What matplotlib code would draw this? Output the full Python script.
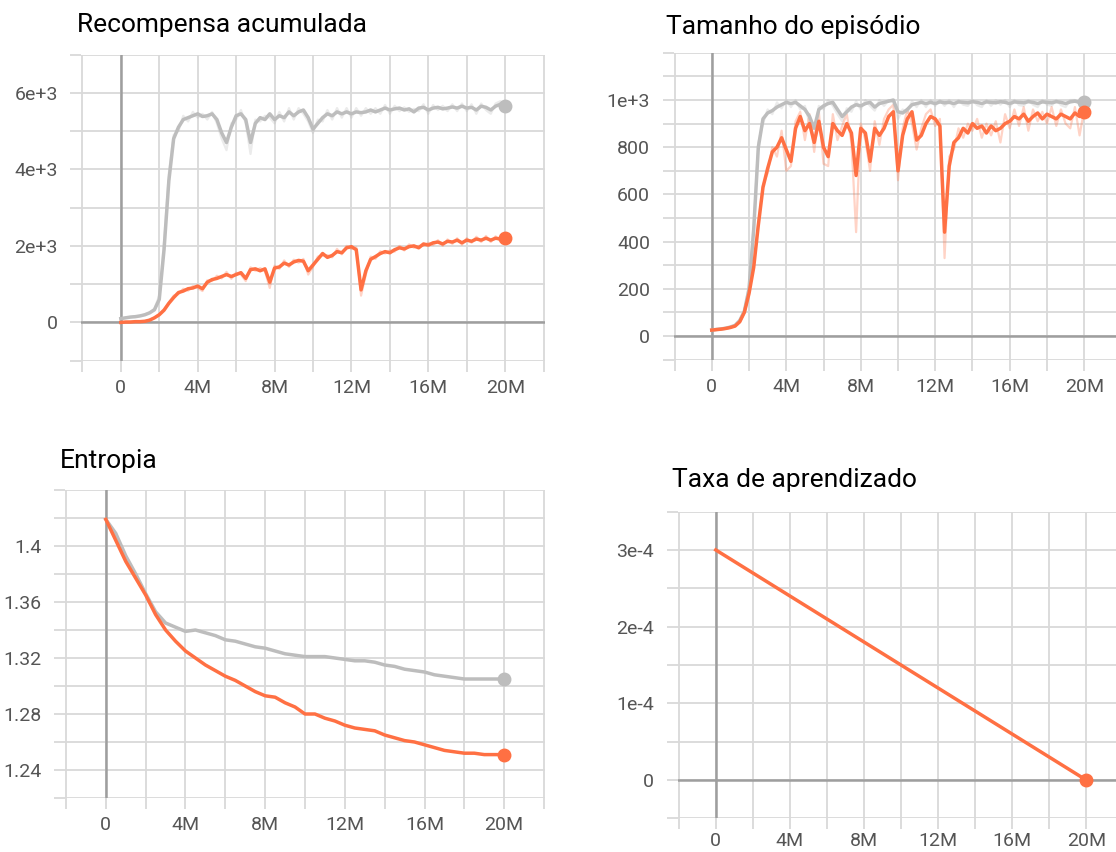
import numpy as np
import matplotlib
matplotlib.use('Agg')
import matplotlib.pyplot as plt

plt.rcParams['font.family'] = ['Roboto', 'DejaVu Sans']

# passos (0 a 20M, a cada 0.25M)
steps = np.arange(81) * 0.25e6
steps_ent = np.arange(41) * 0.5e6

# Recompensa acumulada (em milhares)
rew_gray = [0.10, 0.12, 0.14, 0.15, 0.17, 0.20, 0.25, 0.33, 0.60, 1.90,
            3.70, 4.80, 5.10, 5.30, 5.35, 5.40, 5.45, 5.38, 5.40, 5.45,
            5.30, 4.95, 4.70, 5.10, 5.40, 5.45, 5.30, 4.70, 5.20, 5.35,
            5.30, 5.45, 5.30, 5.40, 5.35, 5.50, 5.40, 5.50, 5.55, 5.35,
            5.05, 5.20, 5.35, 5.45, 5.40, 5.50, 5.45, 5.50, 5.45, 5.50,
            5.48, 5.50, 5.55, 5.50, 5.55, 5.60, 5.55, 5.58, 5.60, 5.55,
            5.58, 5.50, 5.60, 5.62, 5.55, 5.60, 5.62, 5.58, 5.60, 5.63,
            5.60, 5.65, 5.60, 5.62, 5.55, 5.65, 5.62, 5.55, 5.65, 5.70,
            5.65]
rew_gray_raw = [0.10, 0.13, 0.14, 0.16, 0.17, 0.21, 0.26, 0.36, 0.70, 2.10,
                3.90, 4.90, 5.00, 5.40, 5.25, 5.50, 5.35, 5.45, 5.30, 5.50,
                5.20, 4.80, 4.50, 5.20, 5.30, 5.55, 5.20, 4.40, 5.30, 5.25,
                5.40, 5.35, 5.20, 5.50, 5.25, 5.60, 5.30, 5.60, 5.45, 5.25,
                4.95, 5.30, 5.25, 5.55, 5.30, 5.60, 5.35, 5.60, 5.35, 5.60,
                5.40, 5.60, 5.45, 5.60, 5.45, 5.68, 5.45, 5.66, 5.52, 5.62,
                5.50, 5.58, 5.52, 5.70, 5.45, 5.68, 5.55, 5.66, 5.52, 5.70,
                5.52, 5.72, 5.52, 5.70, 5.45, 5.72, 5.55, 5.45, 5.72, 5.78,
                5.60]
rew_orange = [0.00, 0.01, 0.01, 0.02, 0.02, 0.03, 0.06, 0.12, 0.20, 0.32,
              0.50, 0.65, 0.78, 0.82, 0.88, 0.90, 0.95, 0.88, 1.05, 1.12,
              1.15, 1.20, 1.25, 1.20, 1.25, 1.30, 1.15, 1.38, 1.40, 1.35,
              1.40, 1.05, 1.42, 1.45, 1.55, 1.50, 1.58, 1.62, 1.60, 1.35,
              1.50, 1.65, 1.80, 1.70, 1.75, 1.85, 1.82, 1.95, 1.98, 1.90,
              0.85, 1.35, 1.65, 1.72, 1.80, 1.85, 1.82, 1.90, 1.95, 1.92,
              1.98, 2.00, 1.95, 2.05, 2.02, 2.08, 2.10, 2.05, 2.12, 2.10,
              2.15, 2.08, 2.15, 2.12, 2.18, 2.15, 2.20, 2.15, 2.20, 2.18,
              2.20]
rew_orange_raw = [0.00, 0.01, 0.02, 0.02, 0.03, 0.03, 0.07, 0.13, 0.22, 0.35,
                  0.52, 0.70, 0.74, 0.88, 0.83, 0.95, 0.90, 0.82, 1.10, 1.08,
                  1.22, 1.15, 1.32, 1.14, 1.30, 1.25, 1.08, 1.44, 1.35, 1.42,
                  1.34, 0.90, 1.48, 1.40, 1.62, 1.45, 1.64, 1.56, 1.66, 1.25,
                  1.45, 1.72, 1.75, 1.76, 1.70, 1.92, 1.78, 2.00, 1.92, 1.96,
                  0.70, 1.25, 1.72, 1.66, 1.86, 1.80, 1.88, 1.85, 2.00, 1.88,
                  2.04, 1.95, 2.00, 2.00, 2.08, 2.02, 2.15, 2.00, 2.17, 2.05,
                  2.20, 2.03, 2.20, 2.08, 2.24, 2.10, 2.26, 2.10, 2.25, 2.12,
                  2.22]

# Tamanho do episodio
ep_gray = [25, 28, 30, 33, 38, 45, 65, 105, 200, 450,
           800, 920, 945, 955, 970, 980, 990, 985, 990, 975,
           960, 930, 880, 960, 975, 985, 990, 960, 930, 950,
           970, 980, 975, 985, 990, 970, 985, 990, 995, 1000,
           950, 945, 960, 980, 985, 990, 985, 990, 985, 992,
           988, 990, 985, 992, 990, 988, 993, 990, 985, 992,
           990, 988, 993, 990, 985, 992, 990, 988, 993, 990,
           985, 992, 990, 988, 993, 990, 985, 992, 995, 990,
           990]
ep_gray_raw = [25, 28, 31, 34, 39, 46, 68, 110, 210, 470,
               820, 900, 960, 940, 990, 965, 1000, 970, 1000, 960,
               975, 900, 840, 975, 960, 1000, 975, 940, 910, 965,
               950, 995, 960, 1000, 975, 955, 1000, 975, 1000, 990,
               920, 960, 945, 995, 970, 1000, 970, 1000, 975, 1000,
               975, 1000, 970, 1000, 980, 975, 1000, 978, 970, 1000,
               975, 1000, 980, 1000, 970, 1000, 978, 975, 1000, 980,
               970, 1000, 980, 975, 1000, 978, 970, 1000, 1000, 985,
               995]
ep_orange = [25, 27, 29, 32, 36, 42, 60, 100, 180, 290,
             470, 630, 710, 780, 800, 840, 790, 740, 880, 930,
             870, 900, 820, 910, 800, 760, 900, 870, 850, 900,
             860, 680, 880, 860, 740, 880, 850, 880, 930, 950,
             700, 850, 920, 950, 830, 850, 900, 930, 920, 890,
             440, 720, 820, 840, 880, 860, 900, 880, 890, 860,
             890, 870, 880, 900, 910, 930, 920, 940, 910, 930,
             945, 920, 940, 930, 920, 940, 930, 920, 945, 930,
             950]
ep_orange_raw = [25, 27, 30, 32, 37, 43, 62, 105, 190, 300,
                 480, 640, 690, 800, 760, 870, 700, 720, 910, 950,
                 830, 940, 780, 950, 730, 720, 940, 830, 890, 940,
                 820, 440, 900, 830, 700, 910, 810, 920, 960, 980,
                 660, 880, 960, 900, 790, 880, 940, 960, 890, 920,
                 330, 760, 790, 880, 840, 900, 870, 920, 840, 900,
                 850, 910, 820, 940, 880, 960, 890, 970, 870, 960,
                 910, 950, 900, 970, 890, 960, 900, 880, 970, 850,
                 960]

# Entropia (a cada 0.5M)
ent_gray = [1.419, 1.409, 1.393, 1.380, 1.366, 1.353, 1.345, 1.342, 1.339, 1.340,
            1.338, 1.336, 1.333, 1.332, 1.330, 1.328, 1.327, 1.325, 1.323, 1.322,
            1.321, 1.321, 1.321, 1.320, 1.319, 1.318, 1.318, 1.317, 1.315, 1.314,
            1.312, 1.311, 1.310, 1.308, 1.307, 1.306, 1.305, 1.305, 1.305, 1.305,
            1.305]
ent_orange = [1.419, 1.404, 1.389, 1.377, 1.365, 1.351, 1.340, 1.332, 1.325, 1.320,
              1.315, 1.311, 1.307, 1.304, 1.300, 1.296, 1.293, 1.292, 1.288, 1.285,
              1.280, 1.280, 1.277, 1.275, 1.272, 1.270, 1.269, 1.268, 1.265, 1.263,
              1.261, 1.260, 1.258, 1.256, 1.254, 1.253, 1.252, 1.252, 1.251, 1.251,
              1.251]

# Taxa de aprendizado
lr_steps = [0, 20e6]
lr_orange = [3e-4, 0.0]

x_major = [0, 4e6, 8e6, 12e6, 16e6, 20e6]
x_labels = ['0', '4M', '8M', '12M', '16M', '20M']
x_minor = [-2e6, 2e6, 6e6, 10e6, 14e6, 18e6, 22e6]

ORANGE = '#ff7043'
GRAY = '#bdbdbd'
GRID = '#d9d9d9'
ZERO = '#9e9e9e'

W, H = 1116, 852
fig = plt.figure(figsize=(W / 100, H / 100), dpi=100)


def make_axes(left, right, top, bottom):
    return fig.add_axes([left / W, 1 - bottom / H, (right - left) / W, (bottom - top) / H])


def style(ax, ylim, ymaj, ylab, ymin, zero_h=True, xpad=5):
    ax.set_xlim(-2.05e6, 22.05e6)
    ax.set_ylim(*ylim)
    for s in ax.spines.values():
        s.set_visible(False)
    ax.set_xticks(x_major)
    ax.set_xticklabels(x_labels)
    ax.set_xticks(x_minor, minor=True)
    ax.set_yticks(ymaj)
    ax.set_yticklabels(ylab)
    ax.set_yticks(ymin, minor=True)
    ax.grid(True, which='both', color=GRID, lw=1.3)
    ax.set_axisbelow(True)
    ax.tick_params(which='both', length=8, width=1.3, color=GRID,
                   labelsize=14, labelcolor='#555555')
    ax.tick_params(axis='x', pad=xpad)
    ax.tick_params(axis='y', pad=9)
    ax.axvline(0, color=ZERO, lw=1.8, zorder=1.5)
    if zero_h:
        ax.axhline(0, color=ZERO, lw=1.8, zorder=1.5)


def curve(ax, x, y, color, raw=None):
    if raw is not None:
        ax.plot(x, raw, color=color, lw=1.6, alpha=0.3, zorder=2)
    ax.plot(x, y, color=color, lw=2.5, zorder=3)
    ax.plot(x[-1], y[-1], 'o', color=color, ms=9, zorder=4)


# painel 1
ax1 = make_axes(81.4, 544.6, 54.5, 360.7)
style(ax1, (-1000, 7000), [0, 2000, 4000, 6000], ['0', '2e+3', '4e+3', '6e+3'],
      [-1000, 1000, 3000, 5000, 7000])
curve(ax1, steps, np.array(rew_gray) * 1000, GRAY, np.array(rew_gray_raw) * 1000)
curve(ax1, steps, np.array(rew_orange) * 1000, ORANGE, np.array(rew_orange_raw) * 1000)

# painel 2
ax2 = make_axes(673.6, 1122.4, 52.8, 359.6)
style(ax2, (-100, 1200), [0, 200, 400, 600, 800, 1000],
      ['0', '200', '400', '600', '800', '1e+3'],
      [-100, 100, 300, 500, 700, 900, 1100, 1200])
curve(ax2, steps, ep_gray, GRAY, ep_gray_raw)
curve(ax2, steps, ep_orange, ORANGE, ep_orange_raw)

# painel 3
ax3 = make_axes(65, 545, 490, 798)
style(ax3, (1.22, 1.44), [1.24, 1.28, 1.32, 1.36, 1.40],
      ['1.24', '1.28', '1.32', '1.36', '1.4'],
      [1.22, 1.26, 1.30, 1.34, 1.38, 1.42, 1.44], zero_h=False)
curve(ax3, steps_ent, ent_gray, GRAY)
curve(ax3, steps_ent, ent_orange, ORANGE)

# painel 4
ax4 = make_axes(677.8, 1124.2, 511.6, 818.4)
style(ax4, (-0.5e-4, 3.5e-4), [0, 1e-4, 2e-4, 3e-4], ['0', '1e-4', '2e-4', '3e-4'],
      [-0.5e-4, 0.5e-4, 1.5e-4, 2.5e-4, 3.5e-4], xpad=2)
curve(ax4, lr_steps, lr_orange, ORANGE)

titles = [('Recompensa acumulada', 77, 32), ('Tamanho do episódio', 666, 34),
          ('Entropia', 60, 468), ('Taxa de aprendizado', 672, 487)]
for t, px, py in titles:
    fig.text(px / W, 1 - py / H, t, fontsize=19, va='baseline', ha='left', color='black')

fig.savefig('out.png', dpi=100)
